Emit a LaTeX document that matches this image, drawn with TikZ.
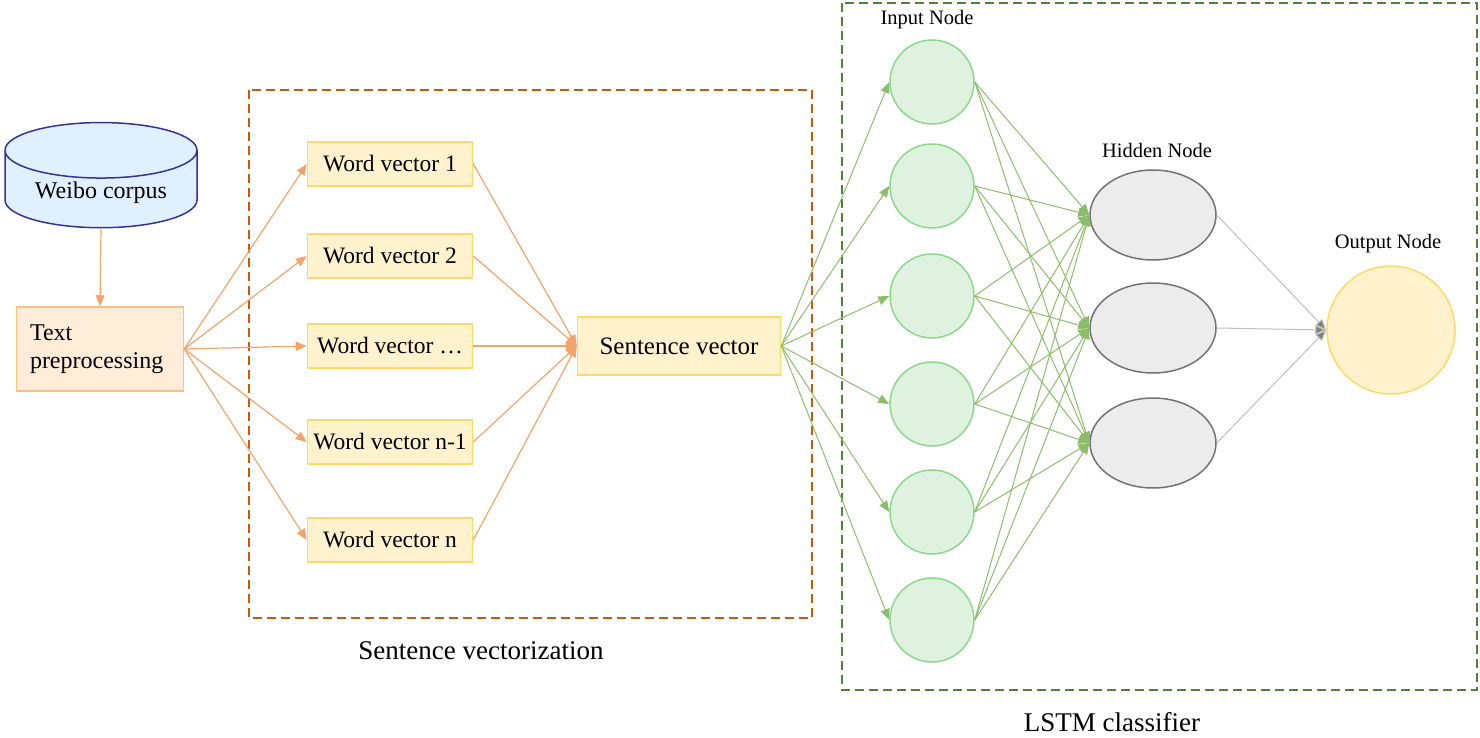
\documentclass[tikz,border=0pt]{standalone}
\usepackage{fontspec}
\setmainfont{Liberation Serif}
\usetikzlibrary{shapes,arrows.meta,positioning,calc}
\definecolor{orline}{HTML}{F4A46A}
\definecolor{ordash}{HTML}{C55A11}
\definecolor{grline}{HTML}{70AD47}
\definecolor{grdash}{HTML}{548235}
\definecolor{wfill}{HTML}{FFF2CC}
\definecolor{wdraw}{HTML}{FFD966}
\tikzset{
    box/.style={draw=#1, line width=1.5pt, minimum height=44pt, inner sep=2pt},
    word/.style={box=wdraw, fill=wfill, minimum width=165pt, font=\fontsize{23.5}{28}\selectfont},
    inode/.style={circle, draw=green!50!gray!60, fill=green!40!gray!18, line width=1.5pt, minimum size=84pt},
    hnode/.style={ellipse, draw=gray!90!black, fill=gray!15, line width=1.5pt, minimum width=126pt, minimum height=90pt},
    orarrow/.style={draw=orline, line width=1.2pt, -{Triangle[length=11pt,width=9pt]}},
    grarrow/.style={draw=grline!80, line width=1pt, -{Triangle[length=11pt,width=9pt]}},
    lbl/.style={font=\fontsize{20.5}{24}\selectfont}
}
\begin{document}
\begin{tikzpicture}[x=1pt,y=-1pt]
    \useasboundingbox (0,0) rectangle (1480,738);
    % frames
    \draw[ordash, line width=1.5pt, dash pattern=on 9pt off 5pt] (249,90) rectangle (812,618);
    \draw[grdash, line width=1.5pt, dash pattern=on 9pt off 5pt] (842,3) rectangle (1477,690);
    \node[font=\fontsize{27}{32}\selectfont] (svlabel) at (481,651) {Sentence vectorization};
    \node[font=\fontsize{27}{32}\selectfont] (lstmlabel) at (1112,722) {LSTM classifier};
    % corpus and preprocessing
    \node[cylinder, shape border rotate=90, aspect=0.4, draw=blue!50!black!80, fill=blue!50!cyan!12, line width=1.5pt,
        minimum width=192pt, minimum height=90pt, font=\fontsize{24}{28}\selectfont] (corpus) at (101,193) {Weibo corpus};
    \node[box=orange!50, fill=orange!15, minimum width=167pt, minimum height=84pt, align=left,
        text width=140pt, font=\fontsize{24}{28}\selectfont] (prep) at (100,349) {Text\\preprocessing};
    \draw[orarrow] (corpus.south) -- (prep.north);
    % word vectors
    \node[word] (w1) at (390,164) {Word vector 1};
    \node[word] (w2) at (390,256) {Word vector 2};
    \node[word] (w3) at (390,346) {Word vector \dots};
    \node[word] (w4) at (390,442) {Word vector n-1};
    \node[word] (w5) at (390,540) {Word vector n};
    \node[word, minimum width=203pt, minimum height=58pt, font=\fontsize{25}{30}\selectfont] (sent) at (679,346) {Sentence vector};
    \foreach \w in {w1,w2,w3,w4,w5}
    {
        \draw[orarrow] (prep.east) -- (\w.west);
        \draw[orarrow] (\w.east) -- (sent.west);
    }
    % input, hidden and output nodes
    \foreach \y [count=\i] in {82,186,296,404,512,620}
        \node[inode] (in\i) at (932,\y) {};
    \foreach \y [count=\j] in {215,328,443}
        \node[hnode] (hid\j) at (1153,\y) {};
    \node[circle, draw=wdraw, fill=wfill, line width=1.5pt, minimum size=128pt] (out) at (1391,330) {};
    \node[lbl] (inlabel) at (927,20) {Input Node};
    \node[lbl] (hidlabel) at (1157,150) {Hidden Node};
    \node[lbl] (outlabel) at (1388,244) {Output Node};
    \foreach \i in {1,...,6}
    {
        \draw[grarrow] (sent.east) -- (in\i.west);
        \foreach \j in {1,2,3}
            \draw[grarrow] (in\i.east) -- (hid\j.west);
    }
    \foreach \j in {1,2,3}
        \draw[draw=gray!50, line width=1pt, -{Triangle[length=11pt,width=9pt,fill=gray]}] (hid\j.east) -- (out.west);
\end{tikzpicture}
\end{document}
